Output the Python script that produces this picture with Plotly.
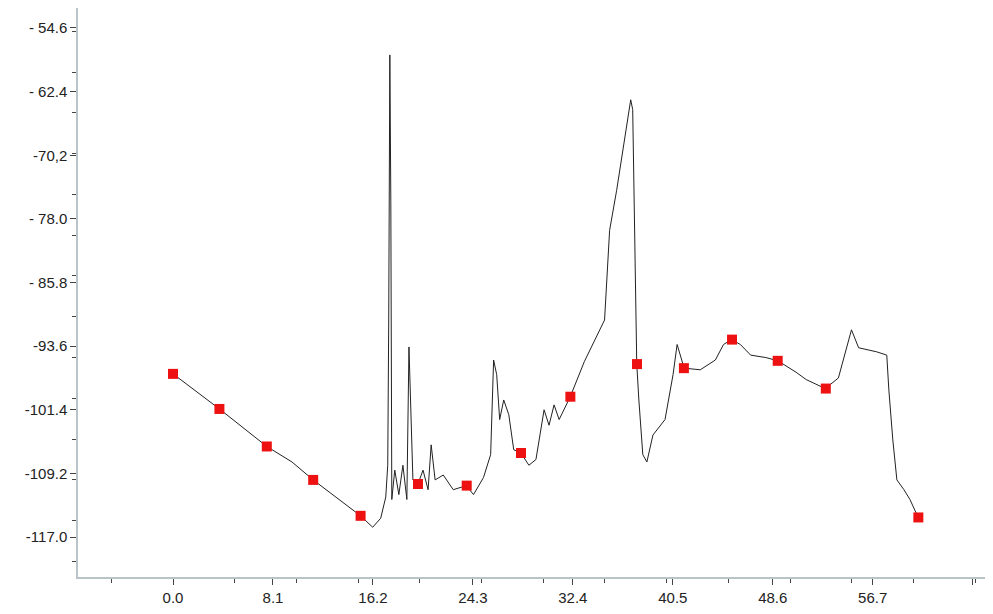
import plotly.graph_objects as go

# traced signal
line_x = [0, 3.76, 7.60, 9.64, 11.36, 15.20, 16.18, 16.83, 17.24, 17.40, 17.48, 17.57, 17.65, 17.73,
          17.97, 18.30, 18.63, 18.95, 19.12, 19.28, 19.44, 19.85, 20.26, 20.67, 20.92, 21.24, 21.90,
          22.71, 23.77, 24.35, 25.16, 25.74, 25.98, 26.23, 26.47, 26.80, 27.21, 27.61, 28.19, 28.84,
          29.41, 30.07, 30.47, 30.88, 31.29, 32.19, 33.33, 34.97, 35.38, 35.95, 36.60, 37.09, 37.25,
          37.42, 37.58, 37.75, 38.07, 38.40, 38.89, 39.87, 40.52, 40.85, 41.18, 41.42, 42.73, 43.95,
          44.61, 45.26, 45.98, 46.81, 48.04, 49.02, 50.49, 51.31, 52.86, 53.92, 54.98, 55.56, 57.03,
          57.84, 58.01, 58.33, 58.66, 59.23, 59.72, 60.38]
line_y = [-97.0, -101.3, -105.9, -107.8, -110.0, -114.4, -115.8, -114.7, -112.1, -108.2, -90.4, -57.9,
          -75.7, -112.4, -108.8, -111.8, -108.2, -112.4, -93.7, -102.6, -110.0, -110.5, -108.8, -111.2,
          -105.7, -110.0, -109.4, -111.2, -110.7, -111.8, -109.7, -106.9, -95.3, -97.1, -102.6, -100.2,
          -102.0, -106.3, -106.7, -108.2, -107.5, -101.4, -103.3, -100.8, -102.6, -99.8, -95.5, -90.4,
          -79.4, -74.5, -68.3, -63.4, -64.6, -84.3, -95.8, -100.2, -106.9, -107.8, -104.5, -102.6,
          -97.1, -93.4, -95.0, -96.3, -96.5, -95.3, -93.4, -92.8, -93.4, -94.7, -95.0, -95.4, -96.8,
          -97.7, -98.8, -97.5, -91.6, -93.8, -94.3, -94.7, -99.0, -105.1, -110.0, -111.2, -112.4, -114.6]

# red markers
mark_x = [0, 3.76, 7.6, 11.36, 15.2, 19.85, 23.8, 28.2, 32.2, 37.6, 41.4, 45.3, 49.0, 52.9, 60.4]
mark_y = [-97.0, -101.3, -105.9, -110.0, -114.4, -110.5, -110.7, -106.7, -99.8, -95.8, -96.3,
          -92.8, -95.4, -98.8, -114.6]

x_ticks = [0.0, 8.1, 16.2, 24.3, 32.4, 40.5, 48.6, 56.7, 64.8]
y_ticks = [-54.6, -62.4, -70.2, -78.0, -85.8, -93.6, -101.4, -109.2, -117.0]
y_labels = ["- 54.6", "- 62.4", "-70,2", "- 78.0", "- 85.8", "-93.6", "-101.4", "-109.2", "-117.0"]

fig = go.Figure()
fig.add_trace(go.Scatter(x=line_x, y=line_y, mode="lines",
                         line=dict(color="#222222", width=1)))
fig.add_trace(go.Scatter(x=mark_x, y=mark_y, mode="markers",
                         marker=dict(symbol="square", size=10, color="#ee1111")))

axis_common = dict(showgrid=False, zeroline=False, showline=True, linecolor="#b8c4c8",
                   linewidth=1.5, mirror=True, ticks="outside", ticklen=6, tickcolor="#444",
                   automargin=False,
                   tickfont=dict(family="Arial, Liberation Sans", size=15, color="#222"),
                   minor=dict(ticks="outside", ticklen=4, tickcolor="#444"))

# page body has an 8px margin, so the figure is sized to fit inside it
fig.update_layout(
    width=977, height=598,
    plot_bgcolor="white", paper_bgcolor="white",
    showlegend=False,
    margin=dict(l=70, r=0, t=0, b=29),
    xaxis=dict(range=[-7.7, 65.8], tickvals=x_ticks, ticktext=[f"{v:.1f}" for v in x_ticks],
               **axis_common),
    yaxis=dict(range=[-121.9, -52.15], tickvals=y_ticks, ticktext=y_labels, **axis_common),
)

fig.write_html("out.html")
